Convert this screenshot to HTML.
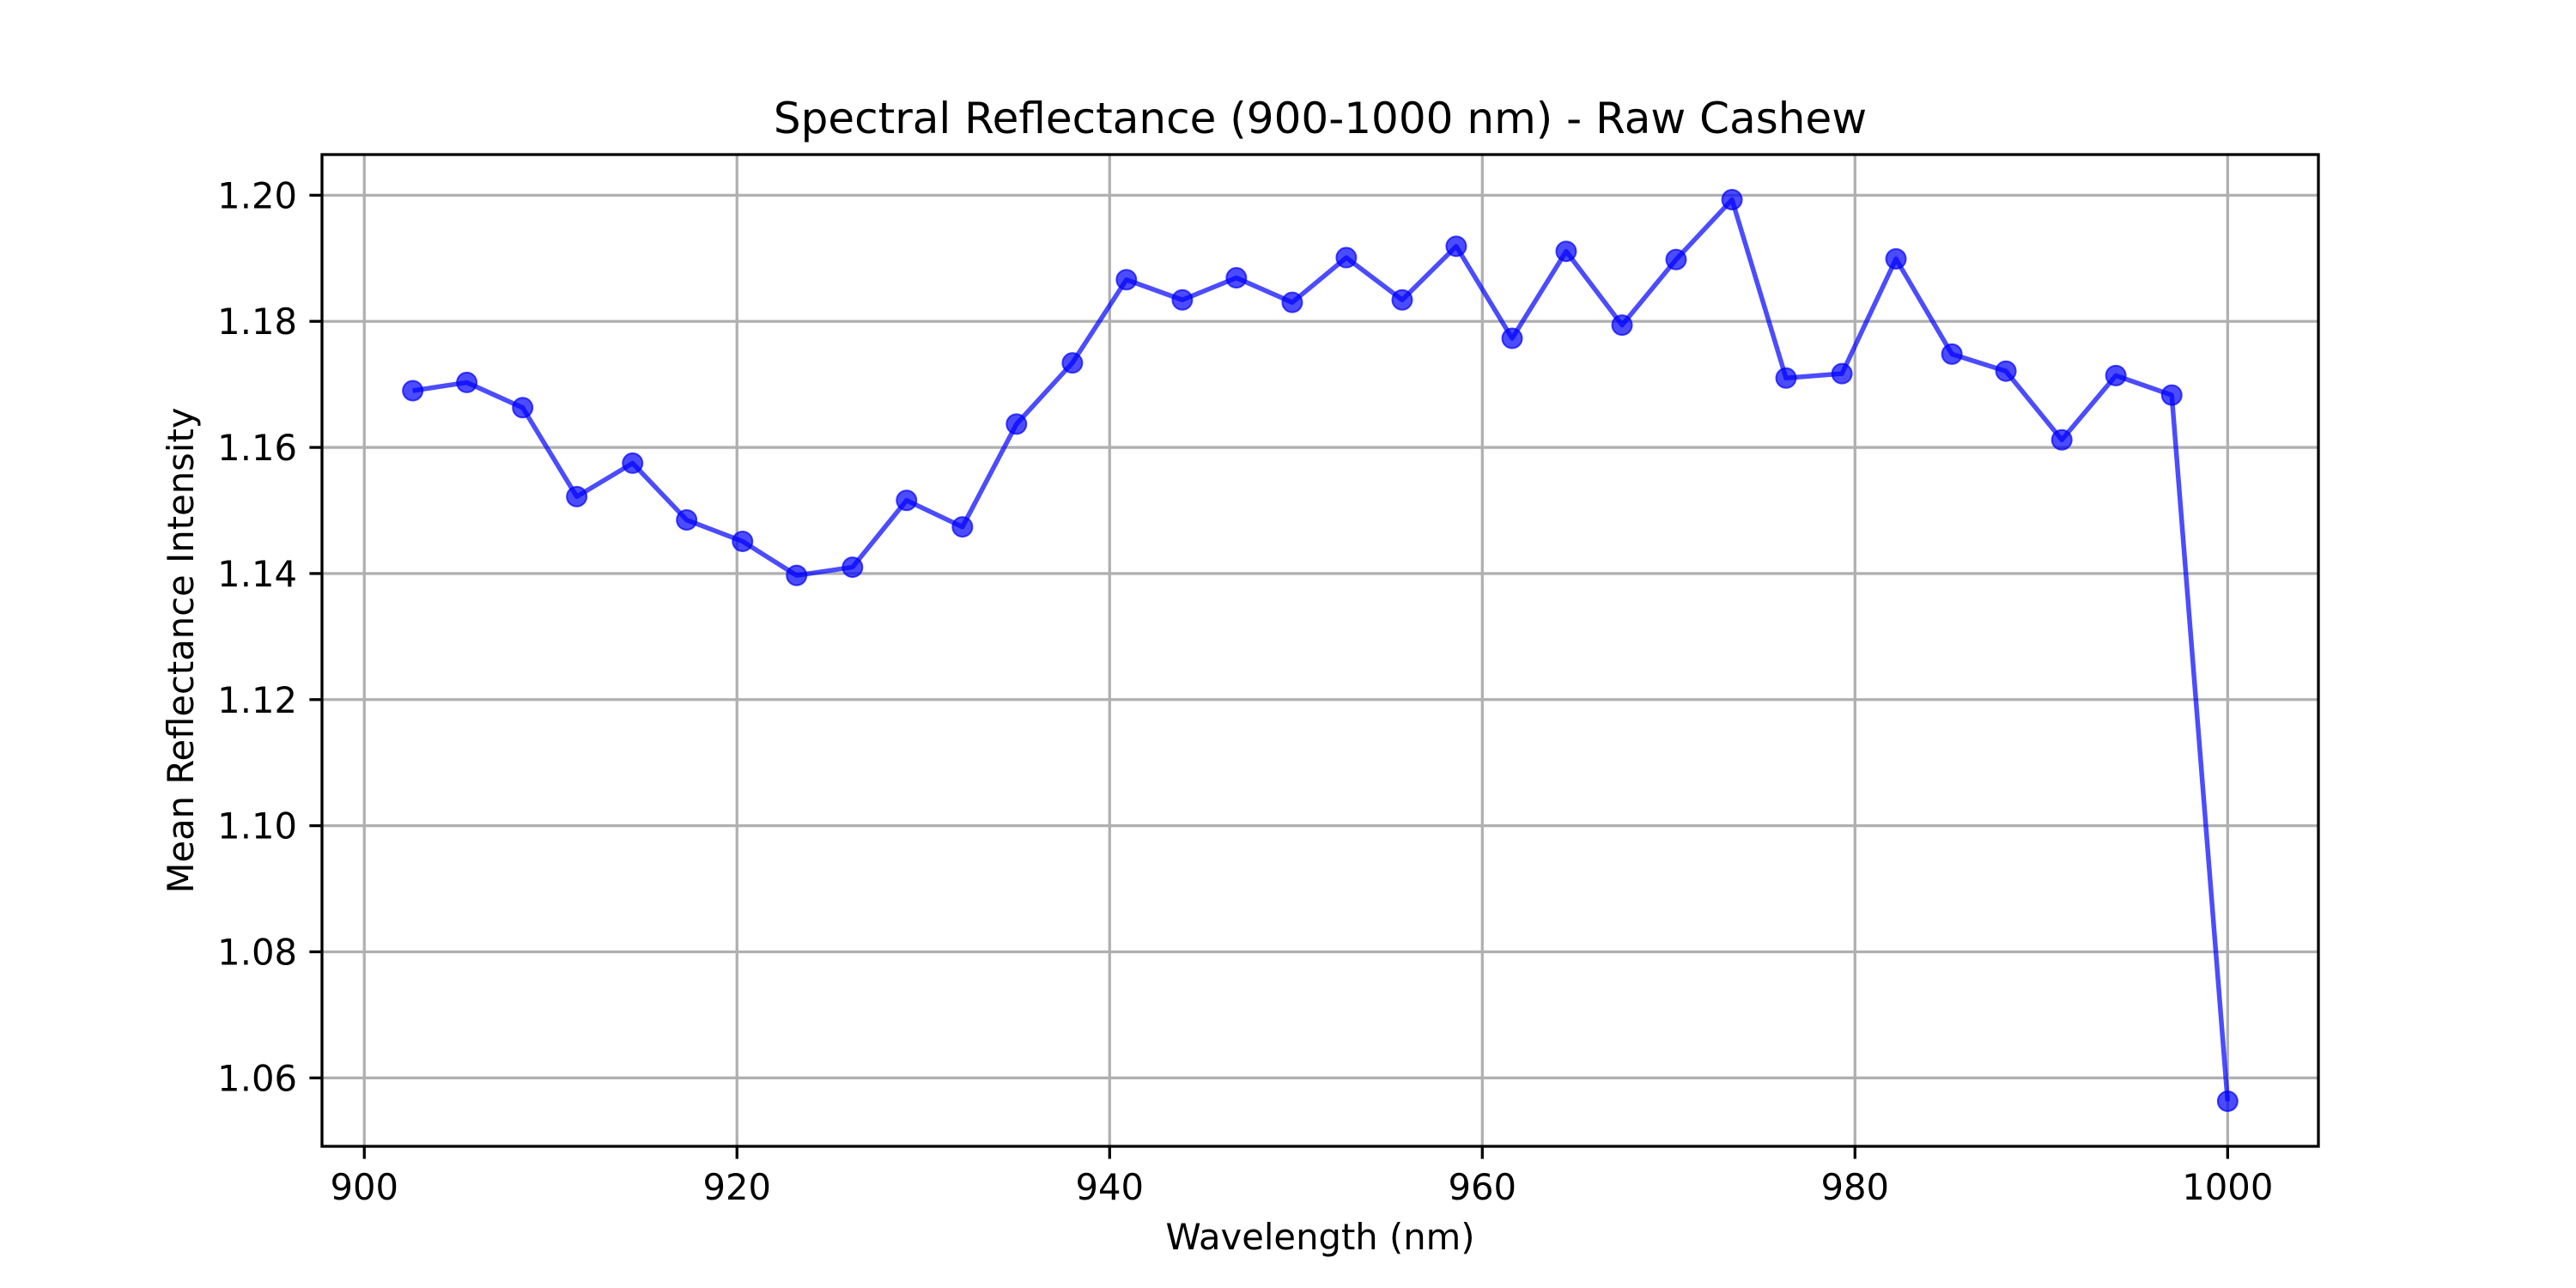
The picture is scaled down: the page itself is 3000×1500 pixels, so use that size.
<!DOCTYPE html>
<html><head><meta charset="utf-8"><style>
html,body{margin:0;padding:0;background:#fff;}
svg{display:block;font-family:"DejaVu Sans","Liberation Sans",sans-serif;}
</style></head><body>
<svg id="chart" width="3000" height="1500" viewBox="0 0 3000 1500" xmlns="http://www.w3.org/2000/svg">
<rect width="3000" height="1500" fill="#fff"/>
<g id="grid"></g>
<g id="ticks"></g>
<g id="series"></g>
<rect x="375" y="180" width="2325" height="1155" fill="none" stroke="#000" stroke-width="3.3"/>
<text x="1537.5" y="155" font-size="50" text-anchor="middle">Spectral Reflectance (900-1000 nm) - Raw Cashew</text>
<text x="1537.5" y="1455" font-size="41.7" text-anchor="middle">Wavelength (nm)</text>
<text transform="translate(225,757.5) rotate(-90)" font-size="41.7" text-anchor="middle">Mean Reflectance Intensity</text>
</svg>
<script>
const wavelengths = [902.6,905.5,908.5,911.4,914.4,917.3,920.3,923.2,926.2,929.1,932.1,935.0,938.0,940.9,943.9,946.8,949.8,952.7,955.7,958.6,961.6,964.5,967.5,970.4,973.4,976.3,979.3,982.2,985.2,988.1,991.1,994.0,997.0,1000.0];
const reflectance = [1.1690,1.1703,1.1663,1.1522,1.1575,1.1485,1.1451,1.1397,1.1410,1.1516,1.1474,1.1637,1.1734,1.1866,1.1834,1.1869,1.1830,1.1901,1.1834,1.1919,1.1773,1.1911,1.1794,1.1898,1.1993,1.1710,1.1717,1.1899,1.1748,1.1721,1.1612,1.1714,1.1683,1.0563];
const xTicks = [900,920,940,960,980,1000];
const yTicks = [1.06,1.08,1.10,1.12,1.14,1.16,1.18,1.20];

const L=375,R=2700,T=180,B=1335;
const xmin=Math.min(...wavelengths),xmax=Math.max(...wavelengths);
const ymin=Math.min(...reflectance),ymax=Math.max(...reflectance);
const x0=xmin-(xmax-xmin)*0.05,x1=xmax+(xmax-xmin)*0.05;
const y0=ymin-(ymax-ymin)*0.05,y1=ymax+(ymax-ymin)*0.05;
const xs=v=>L+(v-x0)/(x1-x0)*(R-L);
const ys=v=>B-(v-y0)/(y1-y0)*(B-T);
const NS="http://www.w3.org/2000/svg";
function mk(tag,attrs,parent){const e=document.createElementNS(NS,tag);for(const k in attrs)e.setAttribute(k,attrs[k]);parent.appendChild(e);return e;}
const grid=document.getElementById('grid'),ticks=document.getElementById('ticks'),series=document.getElementById('series');
xTicks.forEach(t=>{const x=xs(t);
 const g=mk('line',{x1:x,x2:x,y1:T,y2:B,stroke:'#b0b0b0','stroke-width':3.3},grid);
 
 
 const tk=mk('line',{x1:x,x2:x,y1:B,y2:B+14.6,stroke:'#000','stroke-width':3.3},ticks);
 
 
 const lb=mk('text',{x:x,y:B+62,'font-size':41.7,'text-anchor':'middle'},ticks);lb.textContent=t;
 
 
});
yTicks.forEach(t=>{const y=ys(t);
 const g=mk('line',{x1:L,x2:R,y1:y,y2:y,stroke:'#b0b0b0','stroke-width':3.3},grid);
 
 
 const tk=mk('line',{x1:L-14.6,x2:L,y1:y,y2:y,stroke:'#000','stroke-width':3.3},ticks);
 
 
 const lb=mk('text',{x:L-29,y:y+15,'font-size':41.7,'text-anchor':'end'},ticks);lb.textContent=t.toFixed(2);
 
 
});
const pts=wavelengths.map((w,i)=>xs(w)+','+ys(reflectance[i])).join(' ');
const line=mk('polyline',{points:pts,fill:'none',stroke:'#0000ff','stroke-opacity':0.7,'stroke-width':5.5,'stroke-linejoin':'round'},series);


wavelengths.forEach((w,i)=>{
 const c=mk('circle',{cx:xs(w),cy:ys(reflectance[i]),r:11.5,fill:'#0000ff','fill-opacity':0.7,stroke:'#0000ff','stroke-opacity':0.7,'stroke-width':2},series);
 
 
});
</script>
</body></html>
